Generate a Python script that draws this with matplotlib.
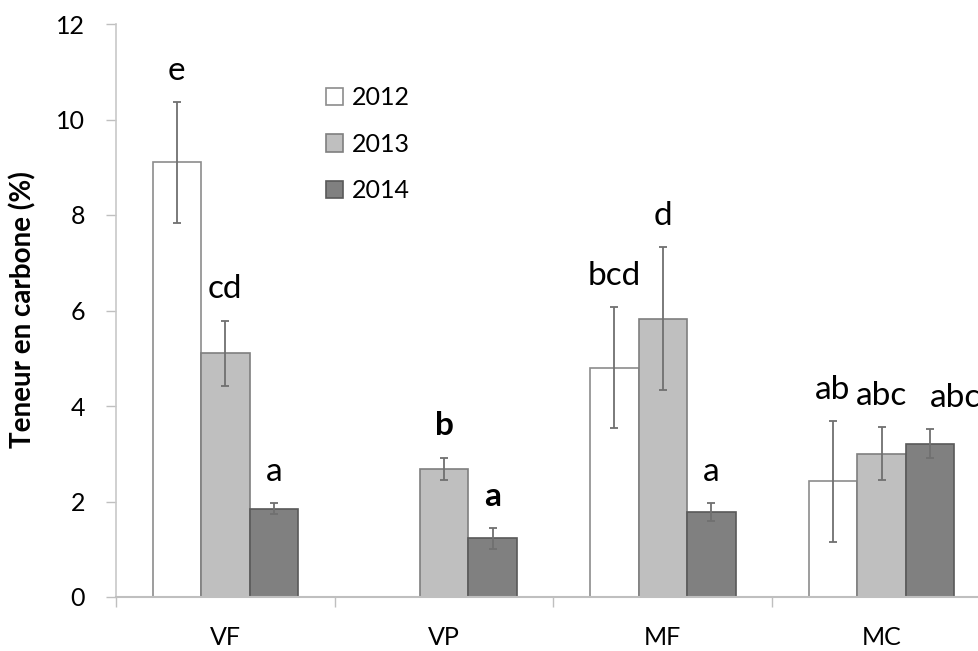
import numpy as np
import matplotlib
matplotlib.use("Agg")
import matplotlib.pyplot as plt

plt.rcParams['font.family'] = ['Lato', 'DejaVu Sans']

categories = ["VF", "VP", "MF", "MC"]
years = ["2012", "2013", "2014"]

vals_2012 = [9.10, np.nan, 4.80, 2.42]
vals_2013 = [5.10, 2.68, 5.83, 3.00]
vals_2014 = [1.85, 1.23, 1.78, 3.21]

err_2012 = [1.26, np.nan, 1.27, 1.27]
err_2013 = [0.69, 0.24, 1.50, 0.55]
err_2014 = [0.12, 0.22, 0.19, 0.30]

letters_2012 = ["e", "", "bcd", "ab"]
letters_2013 = ["cd", "b", "d", "abc"]
letters_2014 = ["a", "a", "a", "abc"]
bold_category = "VP"

yticks = [0, 2, 4, 6, 8, 10, 12]

series = [
    (vals_2012, err_2012, letters_2012, "white", "#8c8c8c"),
    (vals_2013, err_2013, letters_2013, "#bfbfbf", "#7f7f7f"),
    (vals_2014, err_2014, letters_2014, "#808080", "#595959"),
]
# small horizontal nudges (points) for letters that sit off-centre in the original
nudge = {(2, 3): 18}

W, H = 979, 651
fig = plt.figure(figsize=(W / 100, H / 100), dpi=100)
ax = fig.add_axes([116 / W, 54 / H, 875 / W, 573 / H])

x = np.arange(len(categories))
width = 0.222
offsets = [-width, 0, width]

for si, ((vals, errs, labs, fc, ec), off, yr) in enumerate(zip(series, offsets, years)):
    v = np.array(vals, dtype=float)
    e = np.array(errs, dtype=float)
    m = ~np.isnan(v)
    ax.bar(x[m] + off, v[m], width=width, color=fc, edgecolor=ec,
           linewidth=1.2, label=yr, zorder=2)
    ax.errorbar(x[m] + off, v[m], yerr=e[m], fmt="none", ecolor="#707070",
                elinewidth=1.3, capsize=3, capthick=1.3, zorder=3)
    for ci in range(len(categories)):
        if not m[ci] or not labs[ci]:
            continue
        top = v[ci] + e[ci]
        ax.annotate(labs[ci], xy=(x[ci] + off, top),
                    xytext=(nudge.get((si, ci), 0), 16), textcoords="offset points",
                    ha="center", va="baseline", fontsize=24,
                    fontweight="bold" if categories[ci] == bold_category else "normal",
                    color="black", annotation_clip=False, zorder=4)

ax.set_xlim(-0.5, len(categories) - 0.5)
ax.set_ylim(0, 12)
ax.set_yticks(yticks)
ax.set_yticklabels([str(t) for t in yticks])
ax.set_xticks(x)
ax.set_xticklabels(categories)
ax.set_xticks(np.arange(-0.5, len(categories), 1.0), minor=True)

ax.tick_params(axis="y", which="major", direction="out", length=7.2, width=1,
               color="#bfbfbf", labelsize=18, pad=15, labelcolor="black")
ax.tick_params(axis="x", which="major", length=0, labelsize=18, pad=21,
               labelcolor="black")
ax.tick_params(axis="x", which="minor", direction="out", length=7.2, width=1,
               color="#bfbfbf")

for s in ["top", "right"]:
    ax.spines[s].set_visible(False)
ax.spines["left"].set_color("#c8c8c8")
ax.spines["bottom"].set_color("#bfbfbf")
ax.spines["left"].set_linewidth(1.2)
ax.spines["bottom"].set_linewidth(1.5)

fig.text(23 / W, 1 - 310 / H, "Teneur en carbone (%)", rotation=90,
         ha="center", va="center", fontsize=20, fontweight="bold")

leg = ax.legend(loc="upper left", bbox_to_anchor=(326 / W, 1 - 86 / H),
                bbox_transform=fig.transFigure, frameon=False, fontsize=18,
                handlelength=0.68, handleheight=0.68, handletextpad=0.36,
                labelspacing=0.95, borderpad=0, borderaxespad=0)

fig.savefig("out.png", dpi=100)
